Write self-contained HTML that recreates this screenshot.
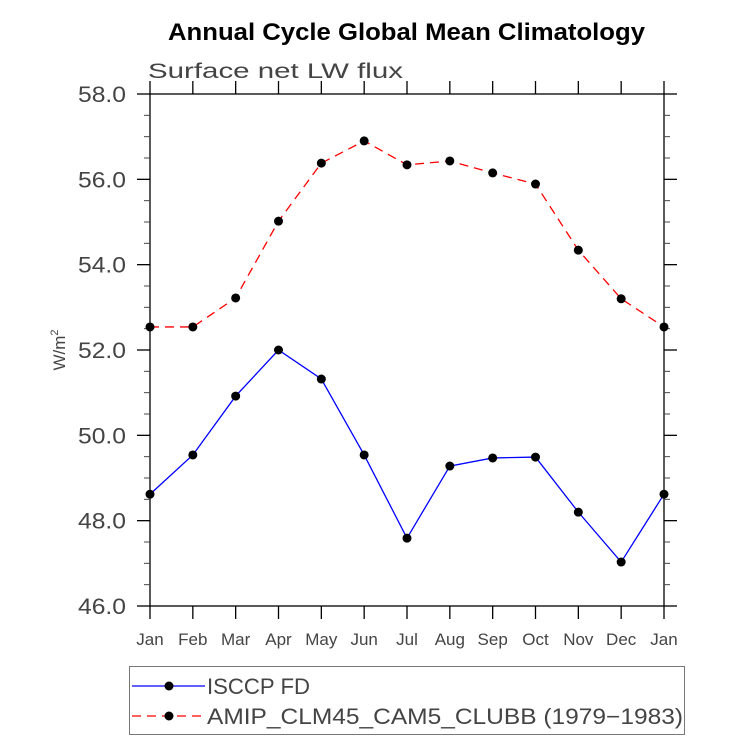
<!DOCTYPE html>
<html><head><meta charset="utf-8"><style>
body{margin:0;background:#fff;}
svg text{font-family:"Liberation Sans",sans-serif;}
</style></head><body>
<svg id="chart" width="733" height="741" viewBox="0 0 733 741" xmlns="http://www.w3.org/2000/svg">
<text x="168" y="40" textLength="477" lengthAdjust="spacingAndGlyphs" font-size="24" font-weight="bold" fill="#000">Annual Cycle Global Mean Climatology</text>
<text x="148" y="78" textLength="255" lengthAdjust="spacingAndGlyphs" font-size="21" fill="#444">Surface net LW flux</text>
<text transform="translate(65,350) rotate(-90)" text-anchor="middle" font-size="17" fill="#444">W/m<tspan dy="-7" font-size="11">2</tspan></text>
<g id="axes"></g>
<g id="series"></g>
<rect x="129.5" y="666.5" width="555" height="68" fill="none" stroke="#777" stroke-width="1"/>
<line x1="132" y1="686" x2="205" y2="686" stroke="#0000ff" stroke-width="1.3"/>
<circle cx="169" cy="686" r="4.5" fill="#000"/>
<text x="207" y="694" textLength="103" lengthAdjust="spacingAndGlyphs" font-size="22" fill="#444">ISCCP FD</text>
<line x1="132" y1="716" x2="205" y2="716" stroke="#ff0000" stroke-width="1.3" stroke-dasharray="9,6"/>
<circle cx="169" cy="716" r="4.5" fill="#000"/>
<text x="207" y="724" textLength="476" lengthAdjust="spacingAndGlyphs" font-size="22" fill="#444">AMIP_CLM45_CAM5_CLUBB (1979−1983)</text>
</svg>
<script>
const months = ["Jan","Feb","Mar","Apr","May","Jun","Jul","Aug","Sep","Oct","Nov","Dec","Jan"];
const isccp = [48.62,49.54,50.92,52.0,51.32,49.54,47.59,49.28,49.47,49.49,48.2,47.03,48.62];
const amip = [52.54,52.54,53.22,55.02,56.38,56.9,56.34,56.43,56.15,55.89,54.34,53.2,52.54];
const yTicks = [46,48,50,52,54,56,58];
const yTickLabels = ["46.0","48.0","50.0","52.0","54.0","56.0","58.0"];
const NS="http://www.w3.org/2000/svg";
const L=150,R=664,T=94,B=606,yMin=46,yMax=58;
const xs=i=>L+(R-L)*i/(months.length-1);
const ys=v=>B-(v-yMin)/(yMax-yMin)*(B-T);
const ax=document.getElementById('axes'), se=document.getElementById('series');
function mk(tag,attrs,parent){const e=document.createElementNS(NS,tag);for(const k in attrs)e.setAttribute(k,attrs[k]);parent.appendChild(e);return e;}
const frame=mk('rect',{x:L,y:T,width:R-L,height:B-T,fill:'none',stroke:'#000','stroke-width':1.3},ax);


for(let v=yMin;v<=yMax+1e-9;v+=0.5){
  const y=ys(v), major=Math.abs(v-Math.round(v/2)*2)<1e-9;
  if(major){
    const t1=mk('line',{x1:L-13,y1:y,x2:L,y2:y,stroke:'#000','stroke-width':1.3},ax);
    
    
    const t2=mk('line',{x1:R,y1:y,x2:R+13,y2:y,stroke:'#000','stroke-width':1.3},ax);
    
    
  } else {
    const m1=mk('line',{x1:L-6,y1:y,x2:L,y2:y,stroke:'#444','stroke-width':1},ax);
    
    
    const m2=mk('line',{x1:R,y1:y,x2:R+6,y2:y,stroke:'#444','stroke-width':1},ax);
    
    
  }
}
yTicks.forEach((v,i)=>{
  const t=mk('text',{x:78,y:ys(v)+8,textLength:48,lengthAdjust:'spacingAndGlyphs','font-size':22,fill:'#444'},ax);
  t.textContent=yTickLabels[i];
  
  
});
months.forEach((m,i)=>{
  const x=xs(i);
  const b=mk('line',{x1:x,y1:B,x2:x,y2:B+13,stroke:'#000','stroke-width':1.3},ax);
  
  
  const t=mk('line',{x1:x,y1:T-13,x2:x,y2:T,stroke:'#000','stroke-width':1.3},ax);
  
  
  const lb=mk('text',{x:x,y:645,'text-anchor':'middle','font-size':17,fill:'#444'},ax);
  lb.textContent=m;
  
  
});
function drawSeries(vals,color,dash,name){
  const pts=vals.map((v,i)=>xs(i)+','+ys(v)).join(' ');
  const pl=mk('polyline',{points:pts,fill:'none',stroke:color,'stroke-width':1.3},se);
  if(dash)pl.setAttribute('stroke-dasharray',dash);
  
  
  vals.forEach((v,i)=>{
    const c=mk('circle',{cx:xs(i),cy:ys(v),r:4.5,fill:'#000'},se);
    
    
  });
}
drawSeries(amip,'#ff0000','9,6','amip');
drawSeries(isccp,'#0000ff',null,'isccp');
</script>
</body></html>
